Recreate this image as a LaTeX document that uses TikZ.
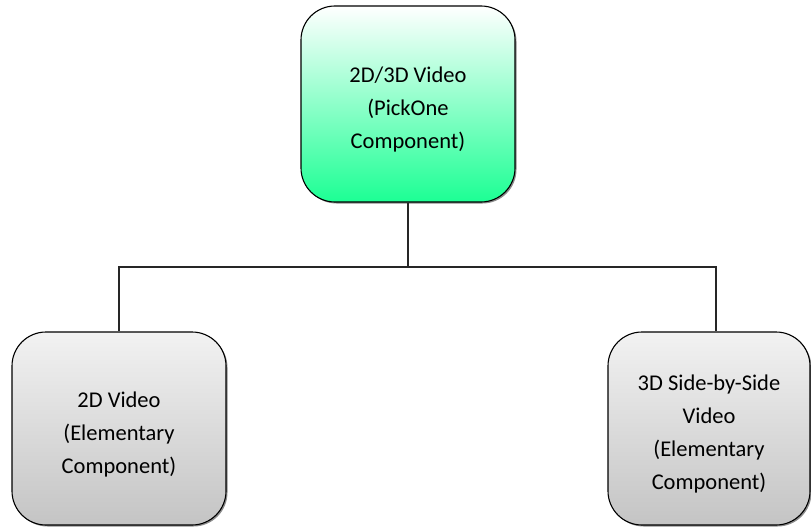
\documentclass[tikz,border=0pt]{standalone}
\usepackage{fontspec}
\setmainfont{Carlito}
\usetikzlibrary{calc}
\definecolor{mint}{RGB}{28,255,148}
\definecolor{greytop}{RGB}{242,242,242}
\definecolor{greybot}{RGB}{196,196,196}
\newcommand{\dropstrut}{\rule{0pt}{27pt}}
\begin{document}
\begin{tikzpicture}[x=1pt,y=-1pt,
  box/.style={rectangle, rounded corners=34pt, draw=black, line width=1.1pt,
    align=center, font=\fontsize{22.5}{33}\selectfont, inner sep=0pt},
  greenbox/.style={box, top color=white, bottom color=mint},
  greybox/.style={box, top color=greytop, bottom color=greybot},
  link/.style={draw=black!85, line width=1.3pt},
  shadowbox/.style={rectangle, rounded corners=34pt, fill=black!45, inner sep=0pt}]
\useasboundingbox (0,0) rectangle (811,527);
% shadows
\node[shadowbox, minimum width=214pt, minimum height=196pt] at (409.5,105.5) {};
\node[shadowbox, minimum width=214pt, minimum height=193pt] at (120.5,430) {};
\node[shadowbox, minimum width=202pt, minimum height=193pt] at (710.5,430) {};
% boxes
\node[greenbox, minimum width=214pt, minimum height=196pt] (top) at (408,104)
  {\dropstrut 2D/3D Video\\(PickOne\\Component)};
\node[greybox, minimum width=214pt, minimum height=193pt] (left) at (119,428.5)
  {\dropstrut 2D Video\\(Elementary\\Component)};
\node[greybox, minimum width=202pt, minimum height=193pt] (right) at (709,428.5)
  {\dropstrut 3D Side-by-Side\\Video\\(Elementary\\Component)};
\coordinate (rin) at ($(right.north)+(7,0)$);
\coordinate (mid) at ($(top.south)+(0,64.5)$);
\draw[link] (top.south) -- (mid) -| (left.north);
\draw[link] (mid) -| (rin);
\end{tikzpicture}
\end{document}
